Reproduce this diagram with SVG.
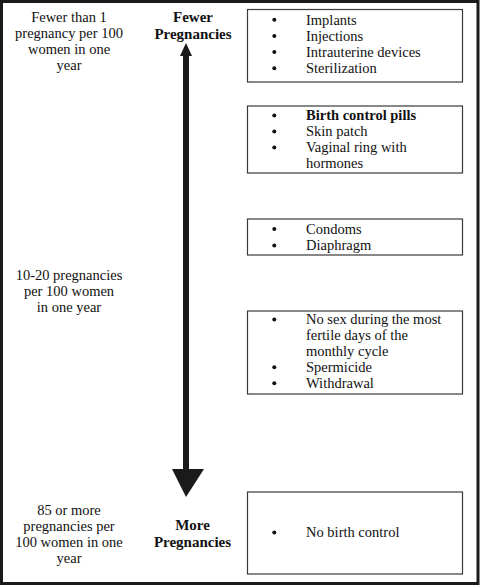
<svg xmlns="http://www.w3.org/2000/svg" width="483" height="587" viewBox="0 0 483 587">
<style>
text{font-family:"Liberation Serif","Times New Roman",serif;font-size:14.5px;fill:#111}
.c{text-anchor:middle}
.b{font-weight:bold}
.h{font-size:15px}
.box{fill:#fff;stroke:#3a3a3a;stroke-width:1.2}
.dot{fill:#111}
</style>
<rect x="0" y="0" width="483" height="587" fill="#fff"/>
<rect id="frame" x="1.5" y="1.5" width="476.5" height="582" fill="none" stroke="#1a1a1a" stroke-width="3"/>
<g id="left-labels">
<g id="label-top">
<text class="c" x="69" y="22">Fewer than 1</text>
<text class="c" x="69" y="38">pregnancy per 100</text>
<text class="c" x="69" y="54">women in one</text>
<text class="c" x="69" y="70">year</text>
</g>
<g id="label-mid">
<text class="c" x="69" y="280">10-20 pregnancies</text>
<text class="c" x="69" y="296">per 100 women</text>
<text class="c" x="69" y="312">in one year</text>
</g>
<g id="label-bottom">
<text class="c" x="69" y="515">85 or more</text>
<text class="c" x="69" y="531">pregnancies per</text>
<text class="c" x="69" y="547">100 women in one</text>
<text class="c" x="69" y="563">year</text>
</g>
</g>
<g id="fewer">
<text class="c b h" x="193" y="22">Fewer</text>
<text class="c b h" x="193" y="38.5">Pregnancies</text>
</g>
<g id="more">
<text class="c b h" x="192.5" y="530">More</text>
<text class="c b h" x="192.5" y="547">Pregnancies</text>
</g>
<g id="connectors">
<rect x="183" y="54" width="6" height="416" fill="#1a1a1a"/>
<polygon points="186,43 180,56 192,56" fill="#1a1a1a"/>
<polygon points="172,469 204,469 186,497" fill="#1a1a1a"/>
</g>
<g id="box1">
<rect class="box" x="247.5" y="9.5" width="215" height="72.5"/>
<circle class="dot" cx="274.3" cy="19.7" r="2"/>
<circle class="dot" cx="274.3" cy="35.9" r="2"/>
<circle class="dot" cx="274.3" cy="52.1" r="2"/>
<circle class="dot" cx="274.3" cy="68.3" r="2"/>
<text x="306" y="24.5">Implants</text>
<text x="306" y="40.7">Injections</text>
<text x="306" y="56.9">Intrauterine devices</text>
<text x="306" y="73.1">Sterilization</text>
</g>
<g id="box2">
<rect class="box" x="247.5" y="106" width="215" height="67"/>
<circle class="dot" cx="274.3" cy="115.5" r="2"/>
<circle class="dot" cx="274.3" cy="131.5" r="2"/>
<circle class="dot" cx="274.3" cy="147.5" r="2"/>
<text class="b" x="306" y="120">Birth control pills</text>
<text x="306" y="136">Skin patch</text>
<text x="306" y="152">Vaginal ring with</text>
<text x="306" y="168">hormones</text>
</g>
<g id="box3">
<rect class="box" x="247.5" y="219" width="215" height="36"/>
<circle class="dot" cx="274.3" cy="229" r="2"/>
<circle class="dot" cx="274.3" cy="245.5" r="2"/>
<text x="306" y="233.5">Condoms</text>
<text x="306" y="250">Diaphragm</text>
</g>
<g id="box4">
<rect class="box" x="247.5" y="311" width="215" height="83"/>
<circle class="dot" cx="274.3" cy="319.5" r="2"/>
<circle class="dot" cx="274.3" cy="367.2" r="2"/>
<circle class="dot" cx="274.3" cy="383.2" r="2"/>
<text x="306" y="324">No sex during the most</text>
<text x="306" y="340">fertile days of the</text>
<text x="306" y="355.7">monthly cycle</text>
<text x="306" y="371.7">Spermicide</text>
<text x="306" y="387.7">Withdrawal</text>
</g>
<g id="box5">
<rect class="box" x="247.5" y="492" width="215" height="82"/>
<circle class="dot" cx="274.3" cy="532.5" r="2"/>
<text x="306" y="537">No birth control</text>
</g>
</svg>
